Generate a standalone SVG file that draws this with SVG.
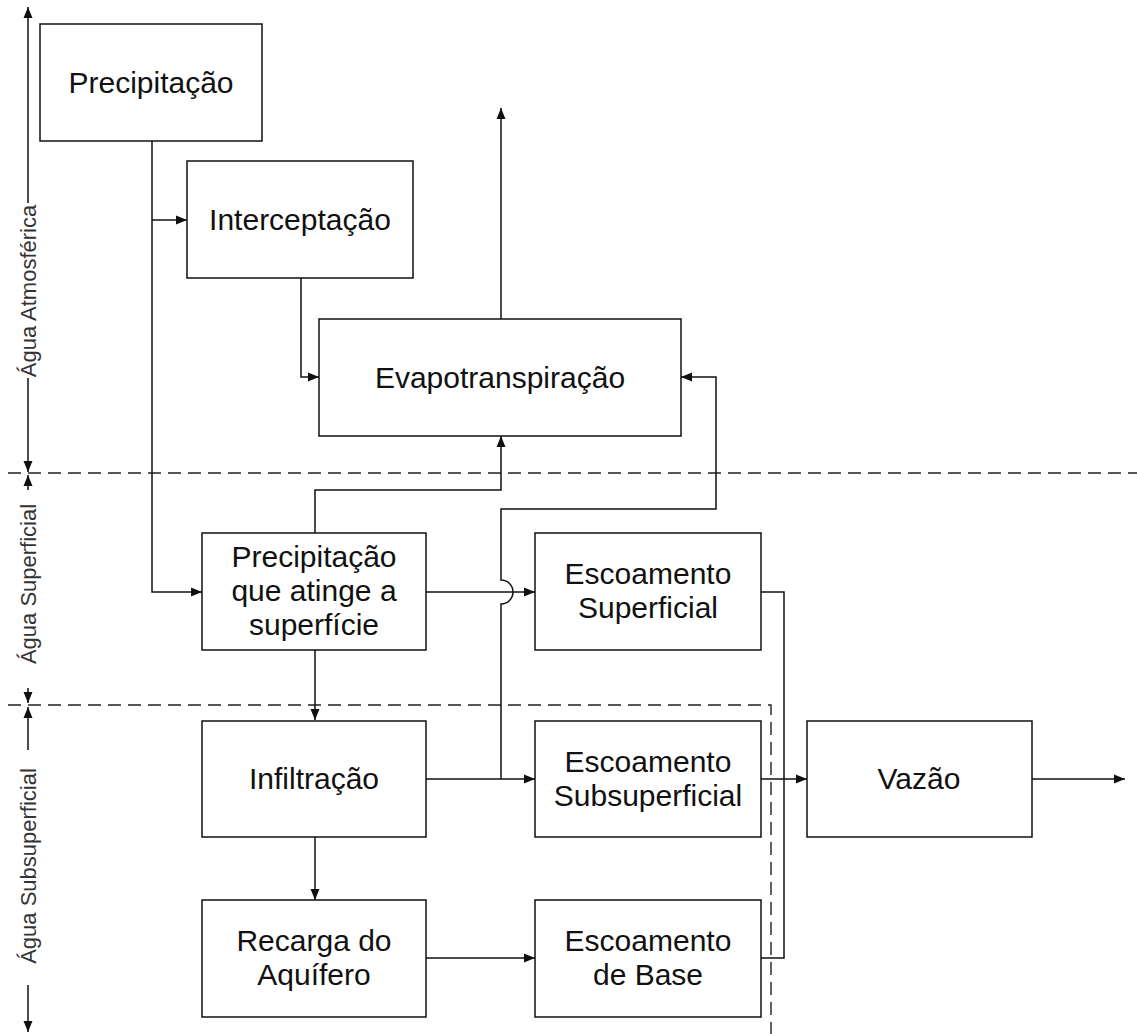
<svg xmlns="http://www.w3.org/2000/svg" width="1137" height="1034" viewBox="0 0 1137 1034">
<style>
.box{fill:#fff;stroke:#111;stroke-width:1.5}
.t{font-family:"Liberation Sans",Arial,sans-serif;font-size:30px;fill:#111;text-anchor:middle}
.s{font-family:"Liberation Sans",Arial,sans-serif;font-size:22px;fill:#333;text-anchor:middle}
.c{fill:none;stroke:#111;stroke-width:1.5}
.d{fill:none;stroke:#222;stroke-width:1.4;stroke-dasharray:13 7}
</style>
<defs>
<marker id="a" viewBox="0 0 11 10" refX="11" refY="5" markerWidth="11" markerHeight="10" markerUnits="userSpaceOnUse" orient="auto">
<path d="M0,0.5 L11,5 L0,9.5 Z" fill="#111"/>
</marker>
</defs>
<rect width="1137" height="1034" fill="#fff"/>

<g id="dividers">
<path class="d" d="M8,473 H1137"/>
<path class="d" d="M8,705 H771 V1034"/>
</g>

<g id="axis">
<path class="c" d="M28,203 V7" marker-end="url(#a)"/>
<text class="s" transform="translate(28,291) rotate(-90)" y="8">Água Atmosférica</text>
<path class="c" d="M28,378 V472" marker-end="url(#a)"/>
<path class="c" d="M28,490 V475" marker-end="url(#a)"/>
<text class="s" transform="translate(28,584) rotate(-90)" y="8">Água Superficial</text>
<path class="c" d="M28,688 V703" marker-end="url(#a)"/>
<path class="c" d="M28,750 V707" marker-end="url(#a)"/>
<text class="s" transform="translate(28,866) rotate(-90)" y="8">Água Subsuperficial</text>
<path class="c" d="M28,985 V1032" marker-end="url(#a)"/>
</g>

<g id="connectors">
<path class="c" d="M152,141 V592 H202" marker-end="url(#a)"/>
<path class="c" d="M152,220 H187" marker-end="url(#a)"/>
<path class="c" d="M301,278 V377 H319" marker-end="url(#a)"/>
<path class="c" d="M501,319 V108" marker-end="url(#a)"/>
<path class="c" d="M315,533 V490 H501 V436" marker-end="url(#a)"/>
<path class="c" d="M426,592 H535" marker-end="url(#a)"/>
<path class="c" d="M426,779 H535" marker-end="url(#a)"/>
<path class="c" d="M501,779 V604 A12,12 0 0 0 501,580 V509 H716 V377 H681" marker-end="url(#a)"/>
<path class="c" d="M315,650 V720" marker-end="url(#a)"/>
<path class="c" d="M315,837 V900" marker-end="url(#a)"/>
<path class="c" d="M426,958 H535" marker-end="url(#a)"/>
<path class="c" d="M761,592 H784 V958 H761"/>
<path class="c" d="M761,779 H807" marker-end="url(#a)"/>
<path class="c" d="M1032,779 H1125" marker-end="url(#a)"/>
</g>

<g id="precipitacao">
<rect class="box" x="40" y="24" width="222" height="117"/>
<text class="t" x="151" y="93">Precipitação</text>
</g>
<g id="interceptacao">
<rect class="box" x="187" y="161" width="226" height="117"/>
<text class="t" x="300" y="230">Interceptação</text>
</g>
<g id="evapotranspiracao">
<rect class="box" x="319" y="319" width="362" height="117"/>
<text class="t" x="500" y="388">Evapotranspiração</text>
</g>
<g id="precipitacao-superficie">
<rect class="box" x="202" y="533" width="224" height="117"/>
<text class="t" x="314" y="567">Precipitação</text>
<text class="t" x="314" y="601">que atinge a</text>
<text class="t" x="314" y="635">superfície</text>
</g>
<g id="escoamento-superficial">
<rect class="box" x="535" y="533" width="226" height="117"/>
<text class="t" x="648" y="584">Escoamento</text>
<text class="t" x="648" y="618">Superficial</text>
</g>
<g id="infiltracao">
<rect class="box" x="202" y="721" width="224" height="116"/>
<text class="t" x="314" y="789">Infiltração</text>
</g>
<g id="escoamento-subsuperficial">
<rect class="box" x="535" y="721" width="226" height="116"/>
<text class="t" x="648" y="772">Escoamento</text>
<text class="t" x="648" y="806">Subsuperficial</text>
</g>
<g id="vazao">
<rect class="box" x="807" y="721" width="225" height="116"/>
<text class="t" x="919" y="789">Vazão</text>
</g>
<g id="recarga">
<rect class="box" x="202" y="900" width="224" height="117"/>
<text class="t" x="314" y="951">Recarga do</text>
<text class="t" x="314" y="985">Aquífero</text>
</g>
<g id="escoamento-base">
<rect class="box" x="535" y="900" width="226" height="117"/>
<text class="t" x="648" y="951">Escoamento</text>
<text class="t" x="648" y="985">de Base</text>
</g>
</svg>
